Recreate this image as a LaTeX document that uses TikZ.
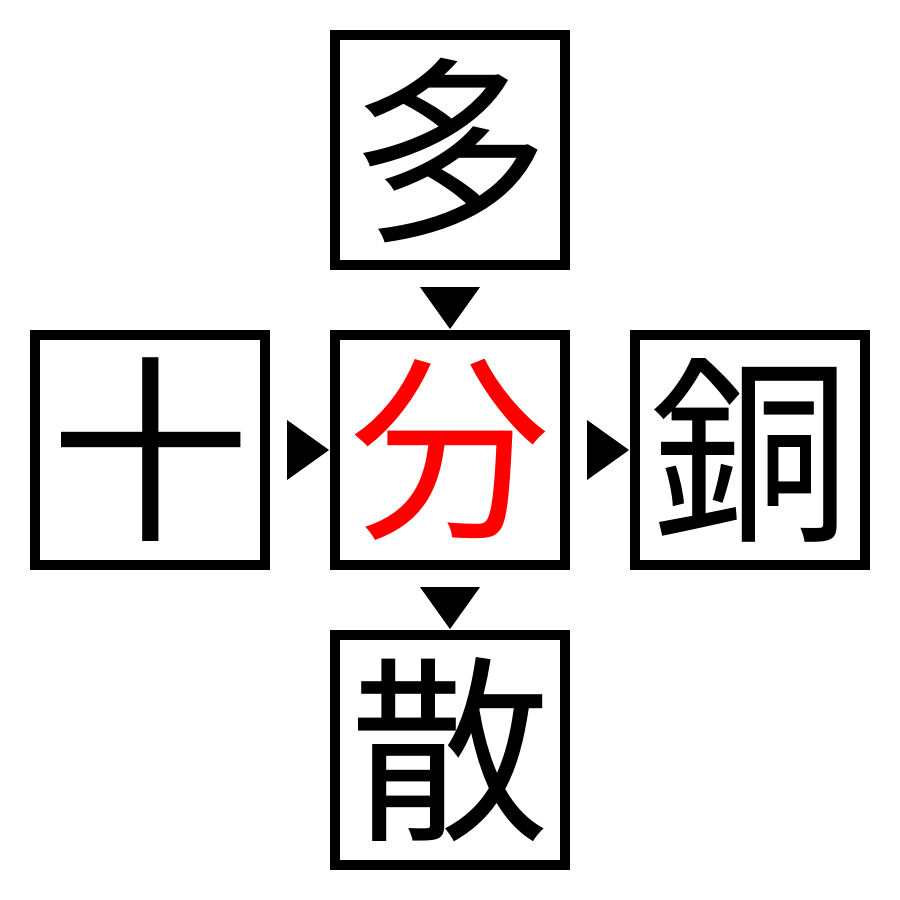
\documentclass[tikz,border=0pt]{standalone}
\usepackage{fontspec}
\newfontfamily\cjk{Noto Sans CJK JP}
\usetikzlibrary{calc}
\begin{document}
\begin{tikzpicture}[x=1pt,y=-1pt,
  kbox/.style={draw=black,line width=10pt,minimum size=230pt,inner sep=0pt,
    font=\cjk\fontsize{200}{200}\selectfont},
  tri/.style={fill=black,draw=none}]
\useasboundingbox[fill=white] (0,0) rectangle (900,900);
\node[kbox] (top) at (450,150) {多};
\node[kbox] (left) at (150,450) {十};
\node[kbox,text=red] (mid) at (450,450) {分};
\node[kbox] (right) at (750,450) {銅};
\node[kbox] (bot) at (450,750) {散};
% arrowheads
\fill[tri] ($(top.south)+(-30,17)$) -- ($(top.south)+(30,17)$) -- ($(top.south)+(0,59)$) -- cycle;
\fill[tri] ($(mid.south)+(-30,17)$) -- ($(mid.south)+(30,17)$) -- ($(mid.south)+(0,59)$) -- cycle;
\fill[tri] ($(left.east)+(17,-30)$) -- ($(left.east)+(17,30)$) -- ($(left.east)+(59,0)$) -- cycle;
\fill[tri] ($(mid.east)+(17,-30)$) -- ($(mid.east)+(17,30)$) -- ($(mid.east)+(59,0)$) -- cycle;
\end{tikzpicture}
\end{document}
